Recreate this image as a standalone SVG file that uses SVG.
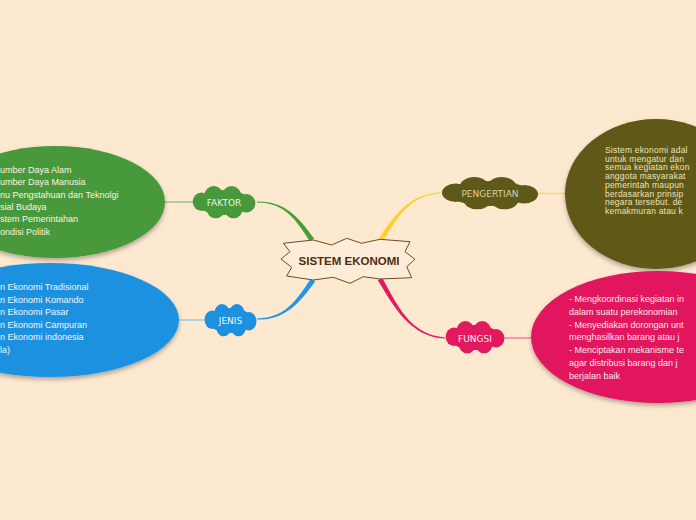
<svg xmlns="http://www.w3.org/2000/svg" xmlns:xlink="http://www.w3.org/1999/xlink" width="696" height="520" viewBox="0 0 696 520">
<style>
.bg{fill:#fde8d0}
.lbl{font-family:"DejaVu Sans","Liberation Sans",sans-serif;font-size:9px;text-anchor:middle}
.body{font-family:"Liberation Sans",Arial,sans-serif;font-size:9px}
.body8{font-family:"Liberation Sans",Arial,sans-serif;font-size:8.5px;letter-spacing:0.2px}
.thin{fill:none;stroke-width:1.3}
.center{fill:#fdecd8;stroke:#744a22;stroke-width:1}
.ctext{font-family:"Liberation Sans",Arial,sans-serif;font-weight:bold;font-size:11.5px;fill:#4e2c0c;text-anchor:middle}
</style>
<defs>
<filter id="sh" x="-20%" y="-20%" width="140%" height="150%">
<feDropShadow dx="0" dy="2.5" stdDeviation="2" flood-color="#000" flood-opacity="0.3"/>
</filter>
<symbol id="cloud" viewBox="-50 -25 100 50" preserveAspectRatio="none">
<ellipse cx="0" cy="0" rx="42" ry="19"/>
<circle cx="-16" cy="-10" r="15"/>
<circle cx="12" cy="-10" r="15"/>
<circle cx="-35" cy="-1" r="14"/>
<circle cx="35" cy="1" r="14"/>
<circle cx="-13" cy="10" r="14"/>
<circle cx="15" cy="10" r="14"/>
</symbol>
</defs>
<rect class="bg" x="0" y="0" width="696" height="520"/>

<g id="connectors">
<path d="M309.9,241.4 C295.4,219.1 285,203 257,202.6 L257,201.4 C285,201 298.6,216.9 314.1,238.6 Z" fill="#4a9e3a"/>
<path d="M315.1,281.4 C299.6,303.1 285,320 257,319.6 L257,318.4 C285,318 296.4,300.9 310.9,278.6 Z" fill="#2196e8"/>
<path d="M378.9,238.7 C394.4,215 410,193 441,192.4 L441,193.6 C410,195 397.6,217 383.1,241.3 Z" fill="#fdd12a"/>
<path d="M382.2,277.75 C396.6,304.05 410,335 445,337.4 L445,338.6 C410,337 393.4,305.95 377.8,280.25 Z" fill="#e5195f"/>
<line class="thin" x1="160" y1="202" x2="195" y2="202" stroke="#94c98a"/>
<line class="thin" x1="175" y1="320" x2="207" y2="320" stroke="#8fc8ef"/>
<line class="thin" x1="536" y1="193.5" x2="570" y2="193.5" stroke="#fcd56a"/>
<line class="thin" x1="502" y1="338" x2="535" y2="338" stroke="#ef7fa3"/>
</g>

<g id="faktor-detail">
<ellipse cx="55" cy="202" rx="110" ry="56" fill="#47993b" filter="url(#sh)"/>
<g class="body" fill="#fcf3e2">
<text x="0" y="173">umber Daya Alam</text>
<text x="0" y="185.3">umber Daya Manusia</text>
<text x="0" y="197.6">nu Pengstahuan dan Teknolgi</text>
<text x="0" y="209.9">sial Budaya</text>
<text x="0" y="222.2">stem Pemerintahan</text>
<text x="0" y="234.5">ondisi Politik</text>
</g>
</g>

<g id="jenis-detail">
<ellipse cx="50" cy="320" rx="129" ry="57" fill="#1d91e0" filter="url(#sh)"/>
<g class="body" fill="#f2f6fb">
<text x="0" y="290">n Ekonomi Tradisional</text>
<text x="0" y="302.6">n Ekonomi Komando</text>
<text x="0" y="315.2">n Ekonomi Pasar</text>
<text x="0" y="327.8">n Ekonomi Campuran</text>
<text x="0" y="340.4">n Ekonomi indonesia</text>
<text x="0" y="353">la)</text>
</g>
</g>

<g id="pengertian-detail">
<ellipse cx="656" cy="194" rx="91" ry="75" fill="#5e5919" filter="url(#sh)"/>
<g class="body8" fill="#ebe3bd">
<text x="605" y="153">Sistem ekonomi adal</text>
<text x="605" y="161.7">untuk mengatur dan</text>
<text x="605" y="170.4">semua kegiatan ekon</text>
<text x="605" y="179.1">anggota masyarakat</text>
<text x="605" y="187.8">pemerintah maupun</text>
<text x="605" y="196.5">berdasarkan prinsip</text>
<text x="605" y="205.2">negara tersebut. de</text>
<text x="605" y="213.9">kemakmuran atau k</text>
</g>
</g>

<g id="fungsi-detail">
<ellipse cx="658" cy="337" rx="127" ry="66" fill="#e2195e" filter="url(#sh)"/>
<g class="body" fill="#fde6ec">
<text x="569" y="302.3">- Mengkoordinasi kegiatan in</text>
<text x="569" y="315">dalam suatu perekonomian</text>
<text x="569" y="327.7">- Menyediakan dorongan unt</text>
<text x="569" y="340.4">menghasilkan barang atau j</text>
<text x="569" y="353.1">- Menciptakan mekanisme te</text>
<text x="569" y="365.8">agar distribusi barang dan j</text>
<text x="569" y="378.5">berjalan baik</text>
</g>
</g>

<g id="faktor">
<use xlink:href="#cloud" href="#cloud" x="192" y="186" width="64" height="33" fill="#47993b"/>
<text class="lbl" x="224" y="205.5" fill="#eef3e4">FAKTOR</text>
</g>

<g id="jenis">
<use xlink:href="#cloud" href="#cloud" x="204" y="304" width="53" height="33" fill="#1d91e0"/>
<text class="lbl" x="230.5" y="323.5" fill="#eef5fc">JENIS</text>
</g>

<g id="pengertian">
<use xlink:href="#cloud" href="#cloud" x="441" y="177" width="98" height="33" fill="#5e5919"/>
<text class="lbl" x="490" y="197" fill="#d6cfa0">PENGERTIAN</text>
</g>

<g id="fungsi">
<use xlink:href="#cloud" href="#cloud" x="445" y="321" width="60" height="33" fill="#e2195e"/>
<text class="lbl" x="475" y="341.5" fill="#fdeef3">FUNGSI</text>
</g>

<g id="sistem-ekonomi">
<polygon class="center" points="283.3,243.3 313.3,240 331.7,245 346.7,238.3 361.7,243.3 380,239.3 410,241.7 405,251.7 415,259.3 406.7,266.7 411.7,277.7 380,279 363.3,276.7 350,283.3 333.3,277.3 313.3,280 286.7,276 291.7,267.3 281,259 290,251.7"/>
<text class="ctext" x="349" y="265">SISTEM EKONOMI</text>
</g>
</svg>
